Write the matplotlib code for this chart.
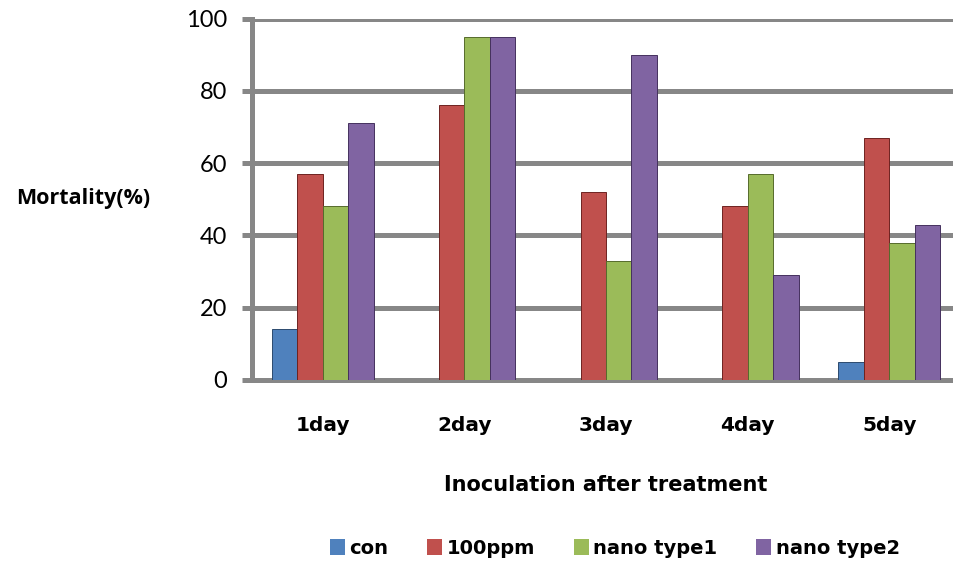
import matplotlib
matplotlib.use("Agg")
import matplotlib.pyplot as plt
from matplotlib.patches import Patch
import numpy as np

days = ["1day", "2day", "3day", "4day", "5day"]
series_names = ["con", "100ppm", "nano type1", "nano type2"]
con = [14, 0, 0, 0, 5]
ppm100 = [57, 76, 52, 48, 67]
nano_type1 = [48, 95, 33, 57, 38]
nano_type2 = [71, 95, 90, 29, 43]
yticks = [0, 20, 40, 60, 80, 100]

colors = ["#4F81BD", "#C0504D", "#9BBB59", "#8064A2"]
edges = ["#2c4a6e", "#6e2220", "#566b2c", "#45315e"]
grid_grey = "#878787"

W, H = 954, 574
fig = plt.figure(figsize=(W / 100, H / 100), dpi=100)
ax = fig.add_axes([252 / W, 1 - 380 / H, 708 / W, (380 - 18.5) / H])

x = np.arange(len(days))
bw = 0.18
values = [con, ppm100, nano_type1, nano_type2]
for i, (vals, c, ec) in enumerate(zip(values, colors, edges)):
    ax.bar(x + (i - 1.5) * bw, vals, width=bw, color=c, edgecolor=ec,
           linewidth=0.7, zorder=3, label=series_names[i])

ax.set_xlim(-0.5, len(days) - 0.5)
ax.set_ylim(0, 100)
ax.set_yticks(yticks)
ax.set_yticklabels([str(v) for v in yticks], fontsize=17, family="Lato")
ax.yaxis.grid(True, color=grid_grey, linewidth=3.6, zorder=0)
ax.set_axisbelow(True)

for s in ["top", "right"]:
    ax.spines[s].set_visible(False)
for s in ["left", "bottom"]:
    ax.spines[s].set_color(grid_grey)
    ax.spines[s].set_linewidth(3.6)
    ax.spines[s].set_zorder(1)

ax.tick_params(axis="y", length=7, width=3.6, color=grid_grey, pad=11)
ax.set_xticks(x)
ax.set_xticklabels(days, fontsize=14.5, fontweight="bold", family="DejaVu Sans")
ax.tick_params(axis="x", length=0, pad=26)

ax.set_xlabel("Inoculation after treatment", fontsize=15, fontweight="bold")
ax.xaxis.label.set_va("center")
ax.xaxis.set_label_coords(0.5, (380 - 485) / (380 - 18.5))

fig.text(83.5 / W, 1 - 198 / H, "Mortality(%)", fontsize=15.5,
         fontweight="bold", ha="center", va="center", family="Open Sans")

handles = [Patch(facecolor=c, edgecolor="none") for c in colors]
fig.legend(handles, series_names, loc="center", ncol=4,
           bbox_to_anchor=(615 / W, 1 - 548 / H), frameon=False,
           prop={"size": 14, "weight": "bold"}, handlelength=0.75,
           handleheight=0.9, handletextpad=0.25, columnspacing=2.0)

fig.savefig("out.png", dpi=100)
